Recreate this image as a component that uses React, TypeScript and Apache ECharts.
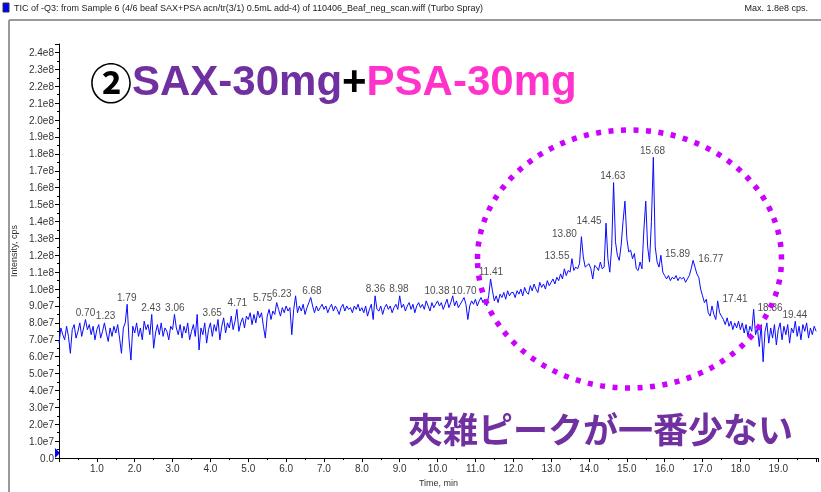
import React, { useEffect, useRef } from 'react';
import * as echarts from 'echarts';

// TIC trace, one value every 0.05 min from 0.00 min, in units of 1e6 cps
const scanStep = 0.05;
const ticMillions = [
  68, 77, 73, 70, 78, 72, 62, 76, 79, 71, 75, 80, 72, 77, 82, 76, 79, 73, 78, 70,
  76, 79, 71, 75, 80, 74, 69, 77, 72, 78, 74, 79, 71, 62, 77, 80, 91, 70, 58, 78,
  74, 80, 72, 77, 70, 81, 76, 79, 73, 85, 65, 74, 79, 73, 80, 72, 77, 75, 70, 78,
  76, 85, 77, 73, 79, 71, 78, 74, 80, 70, 75, 79, 72, 85, 64, 77, 73, 80, 68, 76,
  80, 72, 79, 75, 82, 70, 78, 83, 74, 80, 77, 84, 76, 81, 88, 75, 80, 83, 77, 84,
  82, 86, 79, 85, 80, 87, 83, 86, 78, 71, 84, 88, 82, 87, 85, 92, 88, 84, 89, 86,
  90, 87, 89, 73, 88, 96, 86, 90, 87, 91, 85, 89, 92, 95, 90, 86, 90, 87, 89, 91,
  88, 90, 86, 89, 91, 87, 90, 88, 85, 89, 91, 87, 90, 88, 89, 86, 90, 88, 91, 87,
  89, 86, 90, 84, 88, 91, 82, 96, 88, 87, 90, 85, 89, 91, 88, 90, 86, 89, 91, 88,
  96, 89, 91, 87, 90, 92, 88, 91, 86, 90, 92, 89, 91, 88, 93, 90, 87, 92, 89, 91,
  93, 90, 92, 88, 91, 94, 89, 92, 96, 90, 93, 89, 91, 93, 95, 91, 82, 90, 93, 91,
  94, 90, 93, 95, 92, 94, 90, 96, 106, 99, 93, 96, 92, 97, 95, 98, 94, 99, 96, 98,
  98, 95, 99, 97, 100, 96, 101, 98, 97, 102, 99, 103, 100, 98, 104, 101, 103, 100, 105, 102,
  104, 106, 103, 107, 105, 109, 106, 112, 108, 111, 110, 118, 111, 113, 112, 115, 131, 119, 113, 114,
  115, 112, 106, 114, 113, 111, 116, 112, 113, 139, 118, 110, 125, 163, 128, 120, 117, 126, 140, 152,
  130, 122, 123, 118, 121, 112, 111, 116, 112, 135, 152, 125, 116, 140, 178, 125, 116, 113, 120, 110,
  108, 106, 108, 105, 107, 106, 108, 105, 107, 106, 107, 104, 106, 108, 112, 117, 113, 109, 107, 100,
  96, 92, 94, 86, 84, 90, 85, 82, 93, 86, 84, 82, 79, 83, 78, 81, 76, 80, 77, 81,
  76, 80, 74, 79, 72, 78, 75, 88, 73, 77, 66, 79, 57, 75, 80, 68, 77, 71, 79, 67,
  76, 80, 70, 78, 73, 79, 68, 77, 74, 81, 72, 78, 70, 79, 75, 80, 71, 77, 73, 78,
  75,
];

// Labelled peaks: retention time (min), label, apex intensity (1e6 cps)
const peakTimes = [0.7, 1.23, 1.79, 2.43, 3.06, 3.65, 4.71, 5.75, 6.23, 6.68, 8.36, 8.98, 10.38, 10.7, 11.41, 13.55, 13.8, 14.45, 14.63, 15.68, 15.89, 16.77, 17.41, 18.36, 19.44];
const peakLabels = ['0.70', '1.23', '1.79', '2.43', '3.06', '3.65', '4.71', '5.75', '6.23', '6.68', '8.36', '8.98', '10.38', '10.70', '11.41', '13.55', '13.80', '14.45', '14.63', '15.68', '15.89', '16.77', '17.41', '18.36', '19.44'];
const peakApex = [82, 80, 91, 85, 85, 85, 88, 92, 96, 95, 96, 96, 96, 95, 106, 118, 131, 139, 163, 178, 120, 117, 93, 88, 81];

// label shifts (px) for labels drawn beside their peak
const labelShift: [number, number][] = [
  [0, 0], [0, 0], [0, 0], [0, 0], [0, 0], [15, 5], [0, 0], [-14, 2], [-13, 5], [0, 0],
  [0, 0], [0, 0], [-15, 2], [0, 0], [0, 0], [-15, 4], [-17, 4], [-17, 4], [0, 0], [0, 0],
  [17, 5], [17, 5], [17, 5], [16, 5], [0, 0],
];

const titleText = 'TIC of -Q3: from Sample 6 (4/6 beaf SAX+PSA acn/tr(3/1) 0.5mL add-4) of 110406_Beaf_neg_scan.wiff (Turbo Spray)';
const maxText = 'Max. 1.8e8 cps.';
const headline = ['②', 'SAX-30mg', '+', 'PSA-30mg'];
const note = '夾雑ピークが一番少ない';

const sans = "'Liberation Sans', Arial, 'Noto Sans CJK JP', sans-serif";
const narrow = "'Liberation Sans Narrow', 'Arial Narrow', 'Liberation Sans', sans-serif";

function fmtY(v: number): string {
  if (v === 0) return '0.0';
  if (v < 100) return (v / 10).toFixed(1) + 'e7';
  return (v / 100).toFixed(1) + 'e8';
}

export default function App() {
  const ref = useRef<HTMLDivElement>(null);
  useEffect(() => {
    const chart = echarts.init(ref.current!, null, { renderer: 'svg' });
    const lineData = ticMillions.map((v, i) => [Number((i * scanStep).toFixed(2)), v]);
    const labelData = peakTimes.map((t, i) => ({
      value: [t, peakApex[i]],
      name: peakLabels[i],
    }));
    chart.setOption({
      animation: false,
      grid: { left: 59, right: 2, top: 44, bottom: 24 },
      xAxis: {
        type: 'value',
        min: 0,
        max: 20.05,
        interval: 1,
        axisLine: { lineStyle: { color: '#000', width: 1 } },
        axisTick: { show: true, length: 4, lineStyle: { color: '#000' } },
        minorTick: { show: true, splitNumber: 2, length: 2, lineStyle: { color: '#000' } },
        splitLine: { show: false },
        axisLabel: {
          formatter: (v: number) => (v === 0 || v > 19.5 ? '' : v.toFixed(1)),
          fontSize: 10,
          color: '#333',
          margin: 5,
          fontFamily: sans,
        },
        name: 'Time, min',
        nameLocation: 'middle',
        nameGap: 17,
        nameTextStyle: { fontSize: 9, color: '#333', fontFamily: sans },
      },
      yAxis: {
        type: 'value',
        min: 0,
        max: 245,
        interval: 10,
        axisLine: { show: true, lineStyle: { color: '#000', width: 1 } },
        axisTick: { show: true, length: 4, lineStyle: { color: '#000' } },
        minorTick: { show: true, splitNumber: 2, length: 2, lineStyle: { color: '#000' } },
        splitLine: { show: false },
        axisLabel: {
          formatter: fmtY,
          fontSize: 10,
          color: '#333',
          margin: 5,
          showMaxLabel: false,
          fontFamily: sans,
        },
        name: 'Intensity, cps',
        nameLocation: 'middle',
        nameGap: 41,
        nameTextStyle: { fontSize: 9, color: '#333', fontFamily: sans },
      },
      series: [
        {
          type: 'line',
          data: lineData,
          symbol: 'none',
          lineStyle: { color: '#0a0aff', width: 1 },
          z: 2,
        },
        {
          type: 'scatter',
          data: labelData,
          symbolSize: 0,
          itemStyle: { color: 'transparent' },
          label: {
            show: true,
            position: 'top',
            distance: 2,
            formatter: (p: any) => p.name,
            fontSize: 10,
            color: '#222',
            fontFamily: sans,
          },
          labelLayout: (p: any) => ({ dx: labelShift[p.dataIndex][0], dy: labelShift[p.dataIndex][1] }),
          z: 3,
        },
      ],
      graphic: [
        { type: 'line', shape: { x1: 9, y1: 20, x2: 821, y2: 20 }, style: { stroke: '#999', lineWidth: 2 } },
        { type: 'line', shape: { x1: 9, y1: 20, x2: 9, y2: 492 }, style: { stroke: '#999', lineWidth: 2 } },
        { type: 'rect', shape: { x: 3, y: 3, width: 6, height: 9 }, style: { fill: '#0000ff', stroke: '#333', lineWidth: 1 } },
        { type: 'text', x: 14, y: 8, style: { text: titleText, fill: '#222', fontSize: 9, fontFamily: narrow, verticalAlign: 'middle' } },
        { type: 'text', x: 808, y: 8, style: { text: maxText, fill: '#222', fontSize: 9, fontFamily: narrow, align: 'right', verticalAlign: 'middle' } },
        { type: 'polygon', shape: { points: [[55, 448], [60, 453], [55, 458]] }, style: { fill: '#0000ff' } },
        {
          type: 'text',
          x: 90,
          y: 80,
          style: {
            text: `{c|${headline[0]}}{p|${headline[1]}}{k|${headline[2]}}{m|${headline[3]}}`,
            verticalAlign: 'middle',
            rich: {
              c: { fontSize: 42, fontWeight: 'bold', fill: '#000', fontFamily: "'Noto Sans CJK JP', sans-serif" },
              p: { fontSize: 42, fontWeight: 'bold', fill: '#7030A0', fontFamily: sans },
              k: { fontSize: 42, fontWeight: 'bold', fill: '#000', fontFamily: sans },
              m: { fontSize: 42, fontWeight: 'bold', fill: '#FF33CC', fontFamily: sans },
            },
          },
        },
        {
          type: 'text',
          x: 408,
          y: 427,
          style: { text: note, fill: '#7030A0', fontSize: 35, fontWeight: 'bold', fontFamily: "'Noto Sans CJK JP', sans-serif", verticalAlign: 'middle' },
        },
        {
          type: 'ellipse',
          z: 10,
          shape: { cx: 629.5, cy: 259, rx: 152, ry: 129 },
          style: { fill: 'none', stroke: '#CC00FF', lineWidth: 5.5, lineDash: [5, 7.5] },
        },
      ],
    });
    return () => chart.dispose();
  }, []);
  return <div ref={ref} style={{ position: 'fixed', left: 0, top: 0, width: 821, height: 492 }} />;
}
